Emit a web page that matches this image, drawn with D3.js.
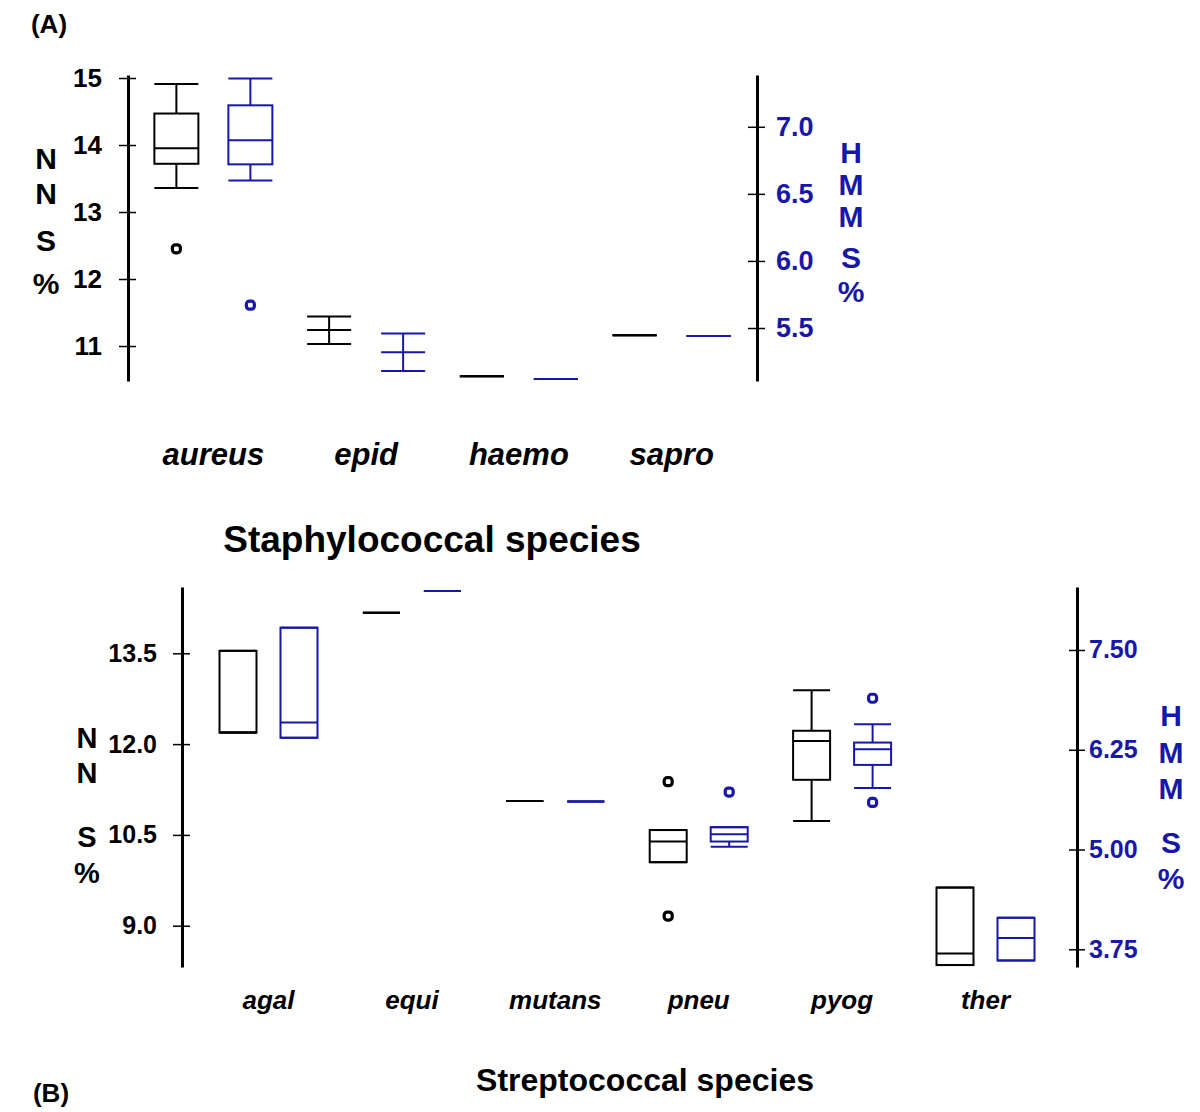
<!DOCTYPE html>
<html lang="en">
<head>
    <meta charset="UTF-8">
    <title>NNS and HMMS by species</title>
    <style>
        body, html {
            margin: 0;
            padding: 0;
            background-color: #fff;
        }
        #svg text {
            font-family: "Liberation Sans", Arial, sans-serif;
            font-weight: bold;
        }
    </style>
</head>
<body>
    <svg id="svg" width="1200" height="1112"></svg>
    <script src="https://d3js.org/d3.v7.min.js"></script>
    <script>
        // box stats are [min, q1, median, q3, max]
        const staphSpecies = ['aureus', 'epid', 'haemo', 'sapro']
        const staphNNS = [
            [13.36, 13.72, 13.95, 14.47, 14.91],
            [11.03, 11.24, 11.24, 11.24, 11.44],
            [10.55, 10.55, 10.55, 10.55, 10.55],
            [11.16, 11.16, 11.16, 11.16, 11.16]
        ]
        const staphNNSOut = [[12.45], [], [], []]
        const staphHMMS = [
            [6.60, 6.72, 6.90, 7.16, 7.36],
            [5.18, 5.32, 5.32, 5.32, 5.46],
            [5.12, 5.12, 5.12, 5.12, 5.12],
            [5.44, 5.44, 5.44, 5.44, 5.44]
        ]
        const staphHMMSOut = [[5.67], [], [], []]
        const staphNNSTicks = [11, 12, 13, 14, 15]
        const staphHMMSTicks = [5.5, 6.0, 6.5, 7.0]

        const strepSpecies = ['agal', 'equi', 'mutans', 'pneu', 'pyog', 'ther']
        const strepNNS = [
            [12.19, 12.19, 12.19, 13.54, 13.54],
            [14.17, 14.17, 14.17, 14.17, 14.17],
            [11.06, 11.06, 11.06, 11.06, 11.06],
            [10.05, 10.05, 10.39, 10.58, 10.58],
            [10.73, 11.41, 12.05, 12.22, 12.89],
            [8.35, 8.35, 8.54, 9.63, 9.63]
        ]
        const strepNNSOut = [[], [], [], [11.38, 9.16], [], []]
        const strepHMMS = [
            [6.40, 6.40, 6.59, 7.78, 7.78],
            [8.24, 8.24, 8.24, 8.24, 8.24],
            [5.60, 5.60, 5.60, 5.60, 5.60],
            [5.035, 5.10, 5.19, 5.28, 5.28],
            [5.77, 6.06, 6.256, 6.34, 6.57],
            [3.61, 3.61, 3.89, 4.145, 4.145]
        ]
        const strepHMMSOut = [[], [], [], [5.72], [6.895, 5.59], []]
        const strepNNSTicks = [9.0, 10.5, 12.0, 13.5]
        const strepHMMSTicks = [3.75, 5.00, 6.25, 7.50]

        const blue = '#1717a8'
        const svg = d3.select('#svg')

        function drawBoxes(g, species, stats, outliers, x, y, offset, boxW, color) {
            const grp = g.append('g')
                .attr('fill', 'none')
                .attr('stroke', color)
                .attr('stroke-width', 2)
            species.forEach((sp, i) => {
                const s = stats[i]
                const cx = x(sp) + x.bandwidth() / 2 + offset
                const b = grp.append('g')
                // whiskers
                b.append('line').attr('x1', cx).attr('x2', cx).attr('y1', y(s[0])).attr('y2', y(s[1]))
                b.append('line').attr('x1', cx).attr('x2', cx).attr('y1', y(s[3])).attr('y2', y(s[4]))
                // caps
                b.append('line').attr('x1', cx - boxW / 2).attr('x2', cx + boxW / 2).attr('y1', y(s[0])).attr('y2', y(s[0]))
                b.append('line').attr('x1', cx - boxW / 2).attr('x2', cx + boxW / 2).attr('y1', y(s[4])).attr('y2', y(s[4]))
                // box + median
                b.append('rect')
                    .attr('x', cx - boxW / 2)
                    .attr('y', y(s[3]))
                    .attr('width', boxW)
                    .attr('height', y(s[1]) - y(s[3]))
                b.append('line').attr('x1', cx - boxW / 2).attr('x2', cx + boxW / 2).attr('y1', y(s[2])).attr('y2', y(s[2]))
                // outliers
                b.selectAll('rect.out')
                    .data(outliers[i])
                    .enter()
                    .append('rect')
                    .attr('class', 'out')
                    .attr('x', cx - 4)
                    .attr('y', d => y(d) - 4)
                    .attr('width', 8)
                    .attr('height', 8)
                    .attr('rx', 3)
                    .attr('stroke-width', 3.2)
            })
        }

        function styleAxis(g, fontSize, color, inner, outer) {
            g.attr('font-family', null).attr('font-size', null)
            g.select('.domain').attr('stroke', '#000').attr('stroke-width', 3)
            g.selectAll('.tick line').attr('stroke', '#000').attr('stroke-width', 1.5)
                .attr('x1', inner)
                .attr('x2', outer)
            g.selectAll('.tick text')
                .attr('fill', color)
                .style('font-size', fontSize + 'px')
        }

        function stackedLabel(x, ys, letters, size, color) {
            svg.append('g').selectAll('text')
                .data(letters)
                .enter()
                .append('text')
                .attr('x', x)
                .attr('y', (d, i) => ys[i])
                .attr('text-anchor', 'middle')
                .attr('dominant-baseline', 'central')
                .attr('fill', color)
                .style('font-size', size + 'px')
                .text(d => d)
        }

        // ---------- Panel A ----------
        const xA = d3.scaleBand().domain(staphSpecies).range([137, 748])
        const yA = d3.scaleLinear().domain([10.478, 15.045]).range([381, 75])
        const yA2 = d3.scaleLinear().domain([5.105, 7.386]).range([381, 75])

        drawBoxes(svg, staphSpecies, staphNNS, staphNNSOut, xA, yA, -37, 44, '#000')
        drawBoxes(svg, staphSpecies, staphHMMS, staphHMMSOut, xA, yA2, 37, 44, blue)

        const axA = svg.append('g').attr('transform', 'translate(128,0)')
            .call(d3.axisLeft(yA).tickValues(staphNNSTicks).tickFormat(d3.format('d'))
                .tickSizeInner(9).tickSizeOuter(0).tickPadding(17))
        styleAxis(axA, 26, '#000', 8, -9)

        const axA2 = svg.append('g').attr('transform', 'translate(757,0)')
            .call(d3.axisRight(yA2).tickValues(staphHMMSTicks).tickFormat(d3.format('.1f'))
                .tickSizeInner(9).tickSizeOuter(0).tickPadding(10))
        styleAxis(axA2, 27, blue, -9, 8)

        stackedLabel(46, [158, 193, 240, 283], ['N', 'N', 'S', '%'], 30, '#000')
        stackedLabel(851, [152, 184, 216, 257, 291], ['H', 'M', 'M', 'S', '%'], 30, blue)

        svg.append('g').selectAll('text')
            .data(staphSpecies)
            .enter()
            .append('text')
            .attr('x', d => xA(d) + xA.bandwidth() / 2)
            .attr('y', 465)
            .attr('text-anchor', 'middle')
            .style('font-size', '31px')
            .style('font-style', 'italic')
            .text(d => d)

        svg.append('text').attr('x', 432).attr('y', 552)
            .attr('text-anchor', 'middle').style('font-size', '37px')
            .text('Staphylococcal species')

        svg.append('text').attr('x', 49).attr('y', 33)
            .attr('text-anchor', 'middle').style('font-size', '26px')
            .text('(A)')

        // ---------- Panel B ----------
        const xB = d3.scaleBand().domain(strepSpecies).range([196.8, 1057.2])
        const yB = d3.scaleLinear().domain([8.318, 14.595]).range([967, 587])
        const yB2 = d3.scaleLinear().domain([3.528, 8.289]).range([967, 587])

        drawBoxes(svg, strepSpecies, strepNNS, strepNNSOut, xB, yB, -30.5, 37, '#000')
        drawBoxes(svg, strepSpecies, strepHMMS, strepHMMSOut, xB, yB2, 30.5, 37, blue)

        const axB = svg.append('g').attr('transform', 'translate(182,0)')
            .call(d3.axisLeft(yB).tickValues(strepNNSTicks).tickFormat(d3.format('.1f'))
                .tickSizeInner(9).tickSizeOuter(0).tickPadding(16))
        styleAxis(axB, 25, '#000', 8, -9)

        const axB2 = svg.append('g').attr('transform', 'translate(1077,0)')
            .call(d3.axisRight(yB2).tickValues(strepHMMSTicks).tickFormat(d3.format('.2f'))
                .tickSizeInner(9).tickSizeOuter(0).tickPadding(3))
        styleAxis(axB2, 25, blue, -8, 8)

        stackedLabel(87, [738, 773, 837, 873], ['N', 'N', 'S', '%'], 29, '#000')
        stackedLabel(1171, [715, 752, 788, 842, 878], ['H', 'M', 'M', 'S', '%'], 30, blue)

        svg.append('g').selectAll('text')
            .data(strepSpecies)
            .enter()
            .append('text')
            .attr('x', d => xB(d) + xB.bandwidth() / 2)
            .attr('y', 1009)
            .attr('text-anchor', 'middle')
            .style('font-size', '26px')
            .style('font-style', 'italic')
            .text(d => d)

        svg.append('text').attr('x', 645).attr('y', 1091)
            .attr('text-anchor', 'middle').style('font-size', '32px')
            .text('Streptococcal species')

        svg.append('text').attr('x', 51).attr('y', 1102)
            .attr('text-anchor', 'middle').style('font-size', '26px')
            .text('(B)')
    </script>
</body>
</html>
